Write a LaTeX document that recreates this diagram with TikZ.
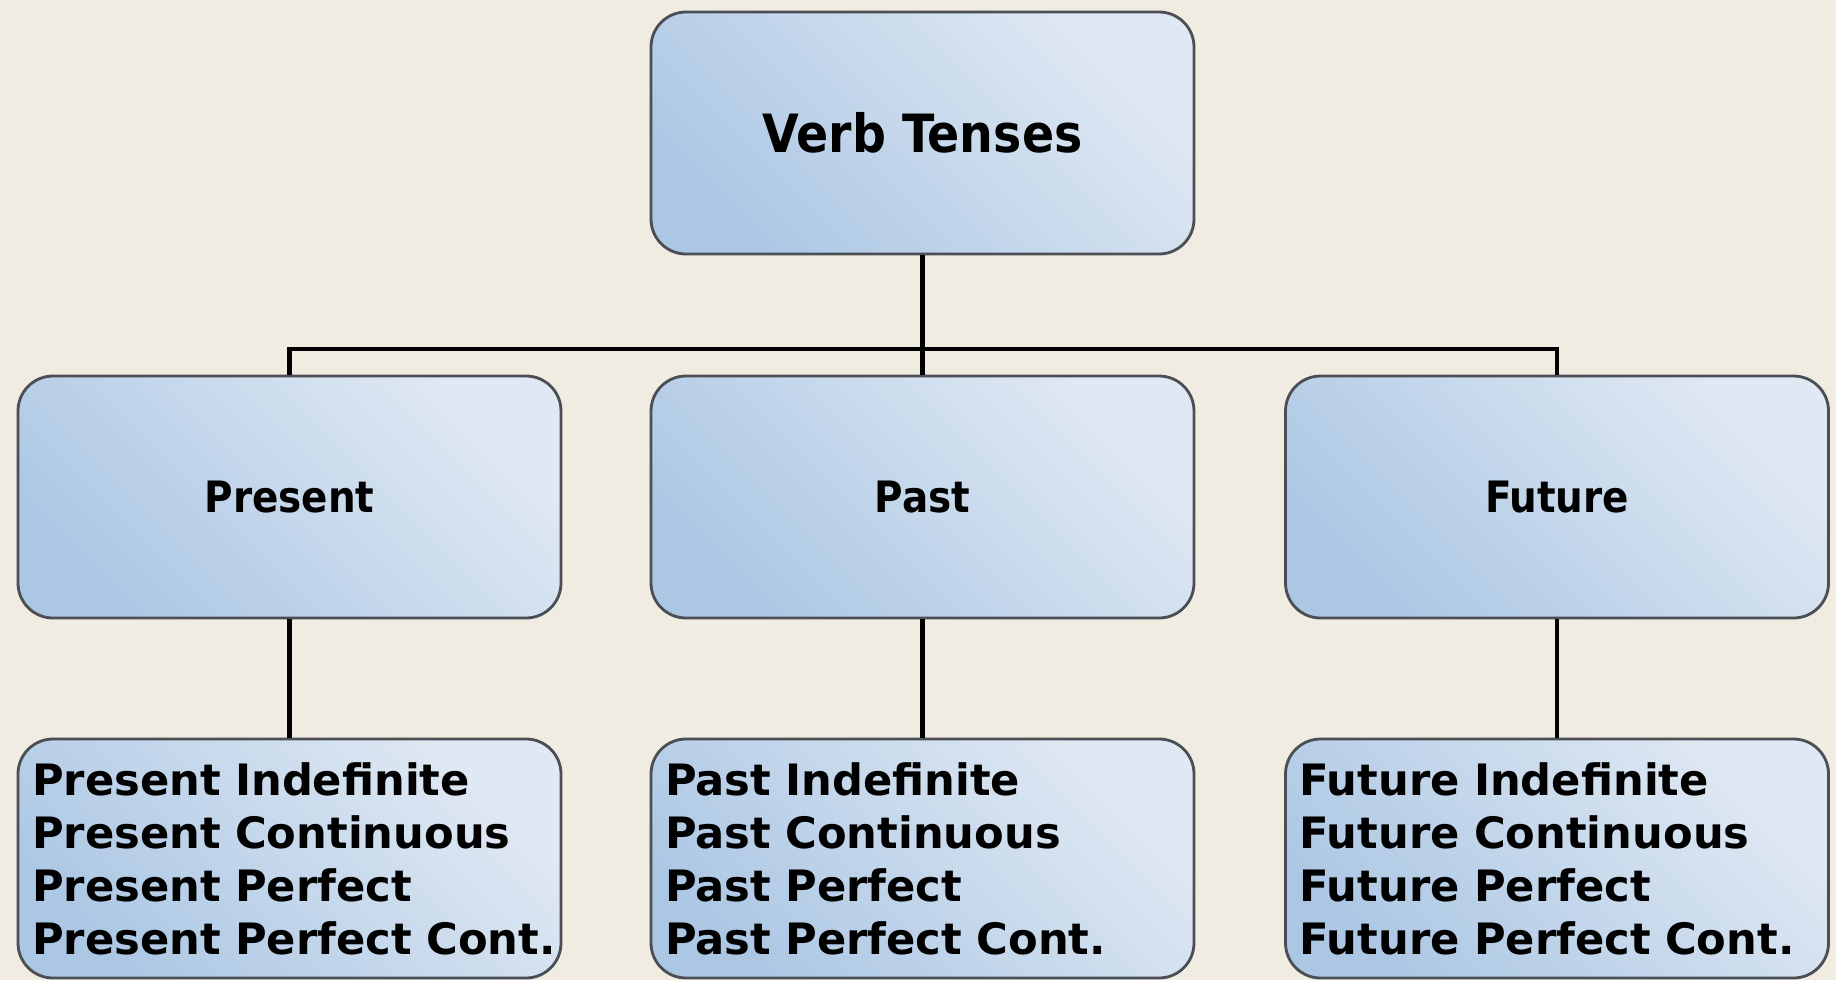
\documentclass[tikz,border=0pt]{standalone}
\usepackage{fontspec}
\setmainfont{DejaVu Sans}
\newfontfamily\headfont{DejaVu Sans Condensed}
\newcommand\widespace{\spaceskip=0.5em\relax}
\definecolor{paper}{RGB}{240,236,226}
\definecolor{boxdark}{RGB}{172,199,228}
\definecolor{boxlight}{RGB}{224,233,243}
\definecolor{boxline}{RGB}{75,79,85}

\begin{document}
\begin{tikzpicture}[
    tensebox/.style={draw=boxline, line width=0.8pt, rounded corners=0.35cm,
        bottom color=boxdark, top color=boxlight, shading angle=-45,
        minimum width=5.43cm, minimum height=2.42cm},
    headbox/.style={tensebox, font=\headfont\bfseries\fontsize{12.3}{14}\selectfont},
    listbox/.style={tensebox, minimum height=2.39cm, text width=5.15cm,
        inner xsep=0.14cm, align=left,
        font=\bfseries\fontsize{12.3}{15.1}\selectfont\widespace},
    linkline/.style={line width=1.4pt}]
    \fill[paper] (0,0) rectangle (18.36,9.80);
    \useasboundingbox (0,0) rectangle (18.36,9.80);

    \node[headbox, font=\headfont\bfseries\fontsize{15}{18}\selectfont] (verb) at (9.225,8.47) {Verb Tenses};

    \node[headbox] (present) at (2.895,4.83) {Present};
    \node[headbox] (past) at (9.225,4.83) {Past};
    \node[headbox] (future) at (15.57,4.83) {Future};

    \node[listbox] (presentlist) at (2.895,1.215) {Present Indefinite\\Present Continuous\\Present Perfect\\\mbox{Present Perfect Cont.}};
    \node[listbox] (pastlist) at (9.225,1.215) {Past Indefinite\\Past Continuous\\Past Perfect\\Past Perfect Cont.};
    \node[listbox] (futurelist) at (15.57,1.215) {Future Indefinite\\Future Continuous\\Future Perfect\\Future Perfect Cont.};

    \coordinate (bus) at (9.225,6.31);
    \draw[linkline] (verb.south) -- (past.north);
    \draw[linkline] (present.north) |- (bus) -| (future.north);
    \draw[linkline] (present.south) -- (presentlist.north);
    \draw[linkline] (past.south) -- (pastlist.north);
    \draw[linkline] (future.south) -- (futurelist.north);
\end{tikzpicture}
\end{document}
